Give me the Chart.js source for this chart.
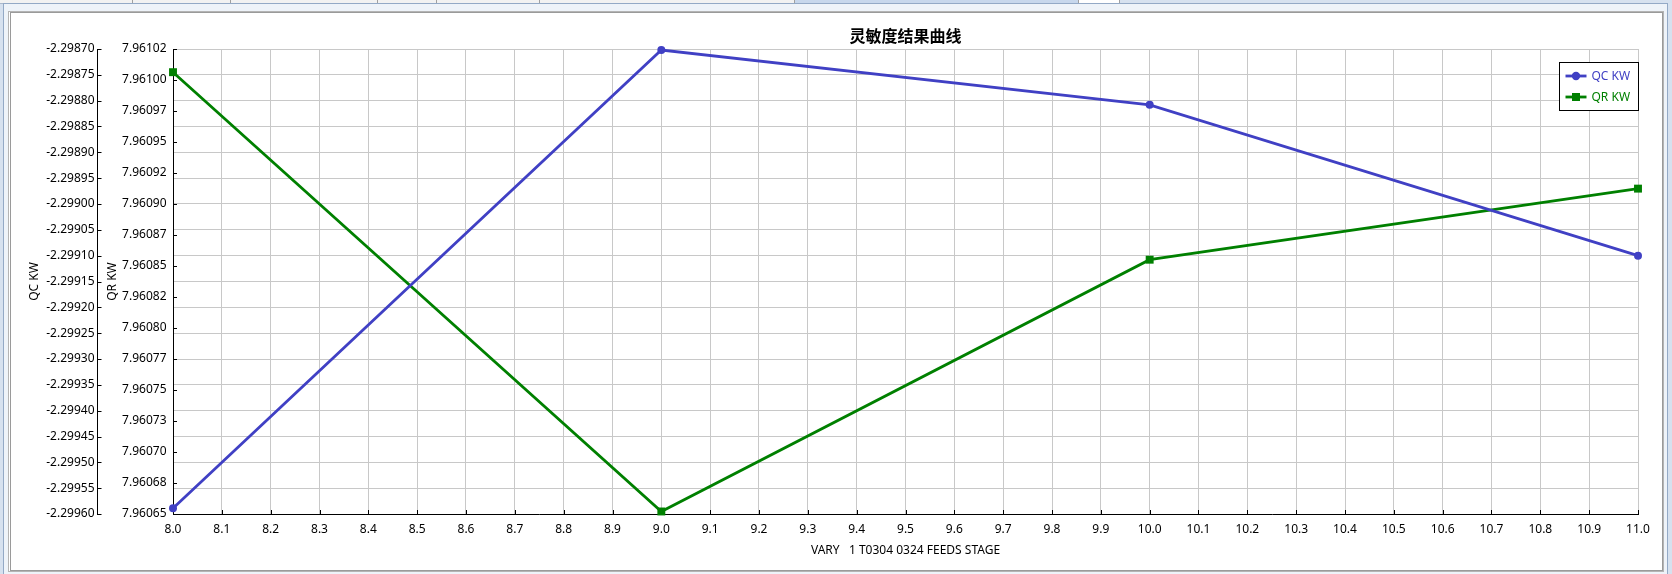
<!DOCTYPE html>
<html><head><meta charset="utf-8">
<script src="https://cdn.jsdelivr.net/npm/chart.js@4.4.0/dist/chart.umd.min.js"></script>
<style>
html,body{margin:0;padding:0;width:1672px;height:574px;overflow:hidden;background:#fff;}
.abs{position:absolute;box-sizing:border-box;}
#c{position:absolute;left:0;top:0;}
</style></head>
<body>
<div class="abs" style="left:0;top:0;width:1672px;height:574px;background:#d6e1ef;"></div>
<div class="abs" style="left:0;top:0;width:794px;height:4px;background:#f2f2f2;border-bottom:1px solid #a9b8cc;"></div>
<div class="abs" style="left:132px;top:0;width:1px;height:3px;background:#a0a0a0;"></div>
<div class="abs" style="left:230px;top:0;width:1px;height:3px;background:#a0a0a0;"></div>
<div class="abs" style="left:377px;top:0;width:1px;height:3px;background:#a0a0a0;"></div>
<div class="abs" style="left:436px;top:0;width:1px;height:3px;background:#a0a0a0;"></div>
<div class="abs" style="left:539px;top:0;width:1px;height:3px;background:#a0a0a0;"></div>
<div class="abs" style="left:794px;top:0;width:284px;height:4px;background:#c7d7ec;border-left:1px solid #a0a0a0;"></div>
<div class="abs" style="left:1078px;top:0;width:42px;height:4px;background:#fff;border-left:1px solid #a0a0a0;border-right:1px solid #a0a0a0;"></div>
<div class="abs" style="left:3px;top:3px;width:1665px;height:571px;background:#eef3f9;border:1px solid #93a9c6;border-bottom:none;"></div>
<div class="abs" style="left:8px;top:11px;width:1656px;height:561px;background:#fff;border:1px solid #b4b4b4;"></div>
<div class="abs" style="left:10px;top:12px;width:1653px;height:559px;background:#fff;border:1px solid #9a9a9a;"></div>
<canvas id="c" width="1672" height="574"></canvas>
<script>
// ---- data ----
const xValues = [8.0, 9.0, 10.0, 11.0];
const qcValues = [-2.299589, -2.298702, -2.298808, -2.299100];
const qrValues = [7.9610021, 7.9606535, 7.9608533, 7.9609097];
const seriesNames = ['QC KW', 'QR KW'];
const chartTitle = '灵敏度结果曲线';
const xTitle = 'VARY   1 T0304 0324 FEEDS STAGE';
const xTickLabels = ['8.0','8.1','8.2','8.3','8.4','8.5','8.6','8.7','8.8','8.9','9.0','9.1','9.2','9.3','9.4','9.5','9.6','9.7','9.8','9.9','10.0','10.1','10.2','10.3','10.4','10.5','10.6','10.7','10.8','10.9','11.0'];
const qcTickLabels = ['-2.29960','-2.29955','-2.29950','-2.29945','-2.29940','-2.29935','-2.29930','-2.29925','-2.29920','-2.29915','-2.29910','-2.29905','-2.29900','-2.29895','-2.29890','-2.29885','-2.29880','-2.29875','-2.29870'];
const qrTickLabels = ['7.96065','7.96068','7.96070','7.96073','7.96075','7.96077','7.96080','7.96082','7.96085','7.96087','7.96090','7.96092','7.96095','7.96097','7.96100','7.96102'];
const qrMin = 7.9606515, qrMax = 7.9610205;

const qcColor = '#4040c4';
const qrColor = '#008000';
const FONT = "'Noto Sans', 'Open Sans', sans-serif";

Chart.defaults.font.family = FONT;
Chart.defaults.font.size = 12;
Chart.defaults.color = '#000';

const decor = {
  id: 'decor',
  beforeDatasetsDraw(chart) {
    const ctx = chart.ctx;
    ctx.save();
    ctx.strokeStyle = '#000';
    ctx.lineWidth = 1;
    const sx = chart.scales.x, q1 = chart.scales.yQC, q2 = chart.scales.yQR;
    ctx.beginPath();
    sx.ticks.forEach(t => { const px = Math.round(sx.getPixelForValue(t.value)) + 0.5; ctx.moveTo(px, sx.top); ctx.lineTo(px, sx.top - 4); });
    [q1, q2].forEach(s => {
      s.ticks.forEach(t => { const py = Math.round(s.getPixelForValue(t.value)) + 0.5; ctx.moveTo(s.right, py); ctx.lineTo(s.right + 4, py); });
    });
    ctx.stroke();
    ctx.restore();
  },
  afterDraw(chart) {
    const ctx = chart.ctx, a = chart.chartArea;
    ctx.save();
    // title
    ctx.font = "bold 16px 'Noto Sans CJK SC', sans-serif";
    ctx.fillStyle = '#000';
    ctx.textAlign = 'center';
    ctx.textBaseline = 'middle';
    ctx.fillText(chartTitle, (a.left + a.right) / 2, 36);
    // legend
    const w = 79, h = 48, rgt = Math.round(a.right) + 0.5, top = Math.round(a.top) + 13.5;
    const lft = rgt - w;
    ctx.fillStyle = '#fff';
    ctx.fillRect(lft, top, w, h);
    ctx.strokeStyle = '#000';
    ctx.lineWidth = 1;
    ctx.strokeRect(lft, top, w, h);
    ctx.font = '12px ' + FONT;
    ctx.textAlign = 'left';
    chart.data.datasets.forEach((ds, i) => {
      const y = top + 13.5 + i * 21;
      const x0 = lft + 6, x1 = lft + 27;
      ctx.strokeStyle = ds.borderColor;
      ctx.lineWidth = 2.8;
      ctx.beginPath(); ctx.moveTo(x0, y); ctx.lineTo(x1, y); ctx.stroke();
      ctx.fillStyle = ds.borderColor;
      ctx.beginPath();
      if (ds.pointStyle === 'circle') { ctx.arc((x0 + x1) / 2, y, 4.2, 0, Math.PI * 2); }
      else { ctx.rect((x0 + x1) / 2 - 4, y - 4, 8, 8); }
      ctx.fill();
      ctx.fillText(ds.label, x1 + 5, y + 0.5);
    });
    ctx.restore();
  }
};

new Chart(document.getElementById('c'), {
  type: 'line',
  data: {
    datasets: [
      {
        label: seriesNames[0],
        data: xValues.map((x, i) => ({x, y: qcValues[i]})),
        yAxisID: 'yQC',
        borderColor: qcColor, backgroundColor: qcColor,
        borderWidth: 2.8, pointStyle: 'circle', pointRadius: 4,
        pointBorderWidth: 0, tension: 0, clip: false
      },
      {
        label: seriesNames[1],
        data: xValues.map((x, i) => ({x, y: qrValues[i]})),
        yAxisID: 'yQR',
        borderColor: qrColor, backgroundColor: qrColor,
        borderWidth: 2.8, pointStyle: 'rect', pointRadius: 5.6,
        pointBorderWidth: 0, tension: 0, clip: false
      }
    ]
  },
  options: {
    responsive: false,
    animation: false,
    devicePixelRatio: 1,
    layout: { padding: { left: 20, top: 49, right: 34, bottom: 10 } },
    plugins: { legend: { display: false }, tooltip: { enabled: false }, title: { display: false } },
    events: [],
    scales: {
      x: {
        type: 'linear', position: 'bottom', min: 8, max: 11,
        afterBuildTicks: s => { s.ticks = xTickLabels.map(l => ({ value: parseFloat(l) })); },
        afterFit: s => { s.height = 50; },
        grid: { color: '#c8c8c8', lineWidth: 1, drawTicks: false },
        border: { color: '#000', width: 1 },
        ticks: { autoSkip: false, maxRotation: 0, padding: 8, callback: (v, i) => xTickLabels[i] },
        title: { display: true, text: xTitle, padding: { top: 0, bottom: 6 } }
      },
      yQC: {
        type: 'linear', position: 'left', weight: 2,
        min: parseFloat(qcTickLabels[0]), max: parseFloat(qcTickLabels[qcTickLabels.length - 1]),
        afterBuildTicks: s => { s.ticks = qcTickLabels.map(l => ({ value: parseFloat(l) })); },
        afterFit: s => { s.width = 77.5; },
        grid: { color: '#c8c8c8', lineWidth: 1, drawTicks: false },
        border: { color: '#000', width: 1 },
        ticks: { autoSkip: false, padding: 3, callback: (v, i) => qcTickLabels[i] },
        title: { display: true, text: seriesNames[0], padding: { top: 7.8, bottom: 0 } }
      },
      yQR: {
        type: 'linear', position: 'left', weight: 1,
        min: qrMin, max: qrMax,
        afterBuildTicks: s => { s.ticks = qrTickLabels.map((l, i) => ({ value: qrMin + (qrMax - qrMin) * i / (qrTickLabels.length - 1) })); },
        afterFit: s => { s.width = 75.5; },
        grid: { drawOnChartArea: false, drawTicks: false },
        border: { color: '#000', width: 1 },
        ticks: { autoSkip: false, padding: 6.5, callback: (v, i) => qrTickLabels[i] },
        title: { display: true, text: seriesNames[1], padding: { top: 7.8, bottom: 0 } }
      }
    }
  },
  plugins: [decor]
});
</script>
</body></html>
